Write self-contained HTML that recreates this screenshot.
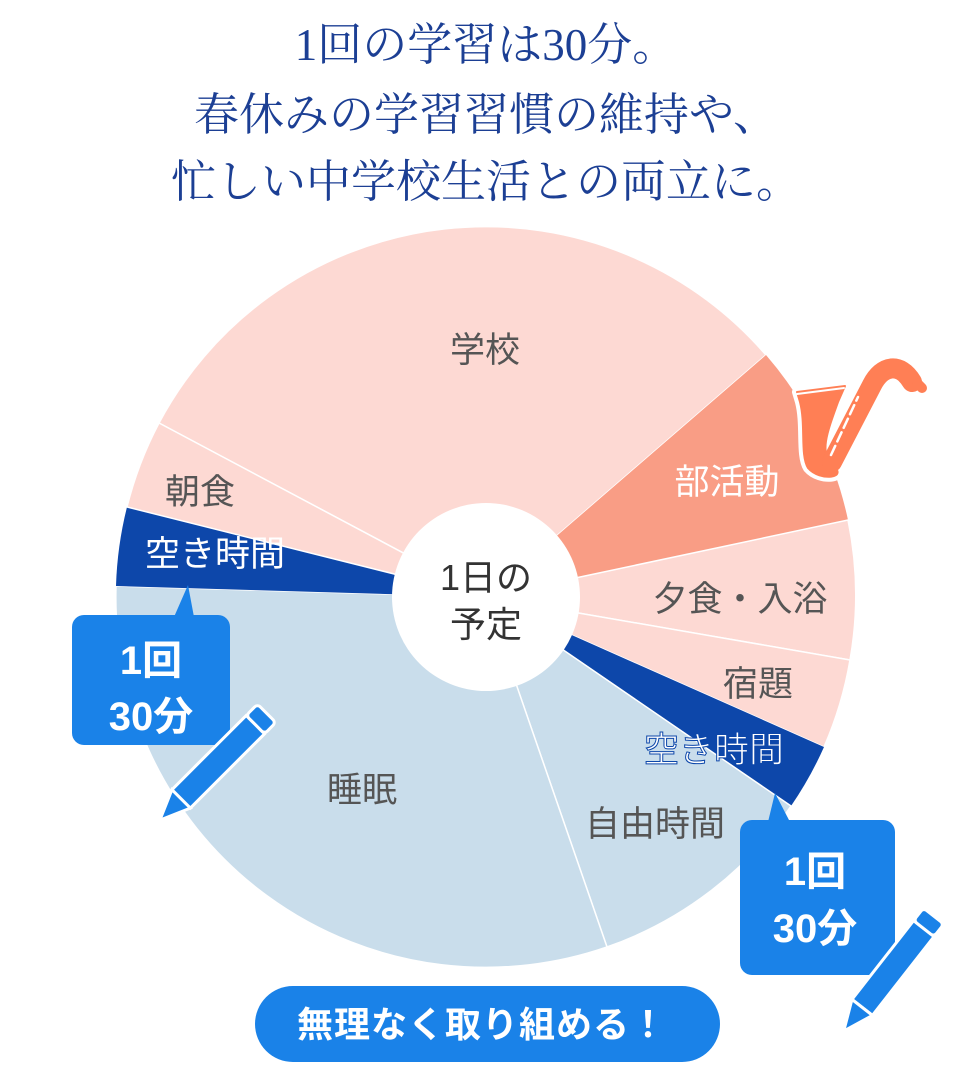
<!DOCTYPE html>
<html><head><meta charset="utf-8"><style>
body{margin:0;width:972px;height:1080px;background:#fff;overflow:hidden}
svg{display:block}
.t{font-family:"Liberation Serif","Noto Serif CJK SC",serif;fill:#1c3f94;font-size:45px;text-anchor:middle}
.l{font-family:"Liberation Sans","Noto Sans CJK JP",sans-serif;fill:#555;font-size:35px;text-anchor:middle}
.b{font-family:"Liberation Sans","Noto Sans CJK JP",sans-serif;fill:#fff;font-size:40px;font-weight:bold;text-anchor:middle}
</style></head><body>
<svg width="972" height="1080" viewBox="0 0 972 1080">
<text class="t" x="486" y="60">1回の学習は30分。</text>
<text class="t" x="486" y="130">春休みの学習習慣の維持や、</text>
<text class="t" x="486" y="197">忙しい中学校生活との両立に。</text>

<g stroke="#fff" stroke-width="1.5">
<path d="M486 597 L159 423 A370 370 0 0 1 766 355 Z" fill="#fdd9d3"/>
<path d="M486 597 L766 355 A370 370 0 0 1 848 520 Z" fill="#f99d85" stroke="none"/>
<path d="M486 597 L848 520 A370 370 0 0 1 850 660 Z" fill="#fdd9d3"/>
<path d="M486 597 L850 660 A370 370 0 0 1 824 747 Z" fill="#fdd9d3"/>
<path d="M486 597 L824 747 A370 370 0 0 1 791 806 Z" fill="#0d47aa" stroke="none"/>
<path d="M486 597 L791 806 A370 370 0 0 1 607 947 Z" fill="#c9ddeb"/>
<path d="M486 597 L607 947 A370 370 0 0 1 116 586 Z" fill="#c9ddeb"/>
<path d="M486 597 L116 586 A370 370 0 0 1 127 507 Z" fill="#0d47aa" stroke="none"/>
<path d="M486 597 L127 507 A370 370 0 0 1 159 423 Z" fill="#fdd9d3"/>
</g>
<circle cx="486" cy="597" r="94" fill="#fff"/>

<!-- saxophone -->
<g stroke-linecap="round" stroke-linejoin="round" fill="none">
<path d="M832 462 L872 385 C882 365 900 362 912 382" stroke="#fff" stroke-width="30"/>
<path d="M797 392 L845 386 L838 402 C826 435 820 452 832 465 C850 478 820 482 808 468 C800 455 806 425 800 402 Z" fill="#fff" stroke="#fff" stroke-width="10"/>
<path d="M797 392 L845 386 L838 402 C826 435 820 452 832 465 C850 478 820 482 808 468 C800 455 806 425 800 402 Z" fill="#ff7f55" stroke="#ff7f55" stroke-width="2"/>
<path d="M832 462 L872 385 C882 365 900 362 912 382" stroke="#ff7f55" stroke-width="20"/>
<path d="M917 383 L922 388" stroke="#ff7f55" stroke-width="10"/>
<path d="M831 455 L858 397" stroke="#fff" stroke-width="2.5" stroke-dasharray="10 5"/>
<path d="M797 394 L844 388" stroke="#fff" stroke-width="2"/>
</g>

<text class="l" x="485" y="362">学校</text>
<text class="l" x="200" y="504">朝食</text>
<text class="l" x="215" y="566" style="fill:#fff">空き時間</text>
<text class="l" x="727" y="494" style="fill:#fff">部活動</text>
<text class="l" x="740" y="611">夕食・入浴</text>
<text class="l" x="758" y="696">宿題</text>
<text class="l" x="714" y="762" style="fill:#fff;stroke:#0d47aa;stroke-width:1">空き時間</text>
<text class="l" x="362" y="802">睡眠</text>
<text class="l" x="655" y="836">自由時間</text>
<text class="l" x="486" y="590" style="fill:#333;font-size:36px">1日の</text>
<text class="l" x="486" y="637" style="fill:#333;font-size:36px">予定</text>

<!-- left bubble -->
<path d="M174 617 L188 585 L194 617 Z" fill="#1a82e8"/>
<rect x="72" y="615" width="158" height="130" rx="12" fill="#1a82e8"/>
<text class="b" x="151" y="674">1回</text>
<text class="b" x="151" y="730">30分</text>
<g transform="translate(220,760) rotate(-45)">
<rect x="-55" y="-13" width="105" height="26" fill="#1a82e8" stroke="#fff" stroke-width="3"/>
<rect x="50" y="-13" width="16" height="26" rx="4" fill="#1a82e8" stroke="#fff" stroke-width="3"/>
<path d="M-55 -13 L-85 0 L-55 13 Z" fill="#1a82e8" stroke="#fff" stroke-width="3"/>
</g>

<!-- right bubble -->
<path d="M768 822 L775 793 L790 822 Z" fill="#1a82e8"/>
<rect x="740" y="820" width="155" height="155" rx="12" fill="#1a82e8"/>
<text class="b" x="815" y="885">1回</text>
<text class="b" x="815" y="942">30分</text>
<g transform="translate(893,968) rotate(-52)">
<rect x="-50" y="-13" width="100" height="26" fill="#1a82e8" stroke="#fff" stroke-width="3"/>
<rect x="50" y="-13" width="16" height="26" rx="4" fill="#1a82e8" stroke="#fff" stroke-width="3"/>
<path d="M-50 -13 L-80 0 L-50 13 Z" fill="#1a82e8" stroke="#fff" stroke-width="3"/>
</g>

<rect x="255" y="986" width="465" height="76" rx="38" fill="#1a82e8"/>
<text class="b" x="482" y="1037" style="font-size:36px;letter-spacing:1px">無理なく取り組める！</text>
</svg>
</body></html>
